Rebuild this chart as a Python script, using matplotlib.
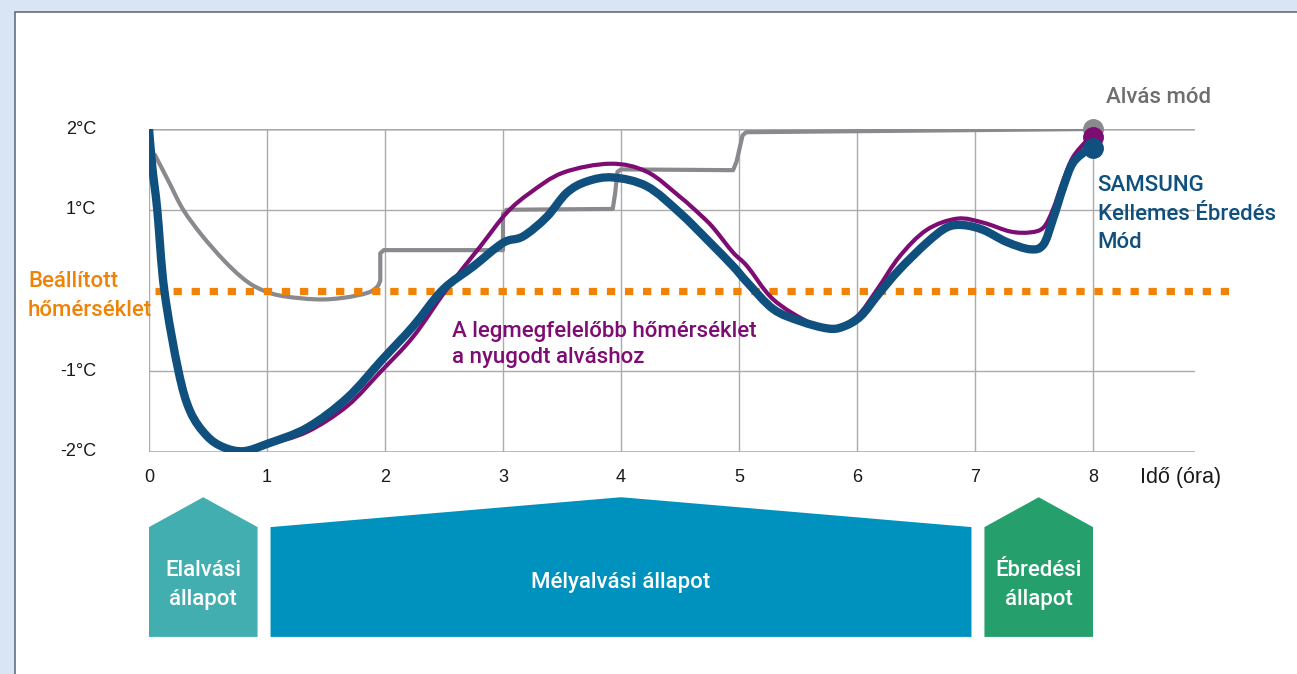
import matplotlib
matplotlib.use("Agg")
import matplotlib.pyplot as plt
from matplotlib.patches import Polygon, Rectangle, PathPatch
from matplotlib.path import Path

plt.rcParams['font.family'] = ['Roboto', 'DejaVu Sans']

# axis ticks
hour_ticks = [0, 1, 2, 3, 4, 5, 6, 7, 8]
temp_ticks = [-2, -1, 1, 2]
temp_labels = ['-2°C', '-1°C', '1°C', '2°C']

# SAMSUNG Kellemes Ébredés Mód (thick blue)
samsung_x = [0.00, 0.03, 0.07, 0.13, 0.25, 0.35, 0.49, 0.63, 0.80, 1.00, 1.34, 1.68, 1.98, 2.24,
             2.49, 2.75, 3.00, 3.17, 3.37, 3.54, 3.71, 3.93, 4.22, 4.50, 4.75, 4.95, 5.07, 5.29,
             5.52, 5.75, 5.88, 6.03, 6.19, 6.36, 6.59, 6.76, 6.90, 7.07, 7.27, 7.47, 7.58, 7.66,
             7.75, 7.83, 7.95, 8.00]
samsung_y = [2.00, 1.50, 1.00, 0.00, -1.00, -1.50, -1.80, -1.94, -1.99, -1.90, -1.70, -1.33, -0.85, -0.44,
             0.01, 0.30, 0.59, 0.67, 0.91, 1.21, 1.35, 1.40, 1.29, 0.96, 0.60, 0.30, 0.10, -0.23,
             -0.38, -0.47, -0.45, -0.32, -0.03, 0.26, 0.59, 0.78, 0.81, 0.75, 0.60, 0.51, 0.57, 0.88,
             1.29, 1.58, 1.74, 1.77]

# A legmegfelelőbb hőmérséklet (purple)
ideal_x = [0.00, 0.03, 0.07, 0.13, 0.25, 0.35, 0.49, 0.63, 0.80, 1.00, 1.34, 1.68, 1.96, 2.24,
           2.52, 2.81, 3.03, 3.23, 3.51, 3.91, 4.22, 4.50, 4.67, 4.78, 4.95, 5.07, 5.29, 5.60,
           5.80, 6.00, 6.17, 6.36, 6.59, 6.85, 7.07, 7.30, 7.47, 7.58, 7.66, 7.75, 7.83, 7.95, 8.00]
ideal_y = [2.00, 1.50, 1.00, 0.00, -1.00, -1.50, -1.80, -1.94, -1.99, -1.91, -1.75, -1.43, -1.01, -0.57,
           0.01, 0.55, 0.96, 1.21, 1.46, 1.57, 1.47, 1.16, 0.94, 0.78, 0.47, 0.30, -0.11, -0.40,
           -0.47, -0.32, 0.01, 0.42, 0.75, 0.89, 0.84, 0.73, 0.72, 0.78, 1.00, 1.37, 1.65, 1.86, 1.90]

# Alvás mód (gray): smooth fall first, then the steps
sleep_x = [0.05, 0.17, 0.29, 0.45, 0.63, 0.78, 0.91, 1.10, 1.42, 1.65, 1.85, 1.93, 1.96, 1.96,
           1.99, 3.00, 3.00, 3.03, 3.93, 3.95, 3.97, 4.00, 4.95, 4.98, 5.03, 5.06, 8.00]
sleep_y = [1.68, 1.34, 1.00, 0.68, 0.38, 0.17, 0.04, -0.06, -0.11, -0.09, -0.03, 0.04, 0.12, 0.46,
           0.50, 0.50, 0.95, 1.00, 1.01, 1.20, 1.47, 1.50, 1.49, 1.60, 1.92, 1.96, 2.00]
sleep_smooth_n = 13

set_temp = 0.0

# sleep stages under the chart
stage_names = [['Elalvási', 'állapot'], ['Mélyalvási állapot'], ['Ébredési', 'állapot']]
stage_start = [0.0, 1.03, 7.08]
stage_end = [0.92, 6.97, 8.0]
stage_colors = ['#42aeb0', '#0092be', '#25a06d']

BLUE = '#0f507e'
PURPLE = '#7d0c73'
GRAY = '#8a898e'
ORANGE = '#ef8307'


def smooth_path(xs, ys):
    # Catmull-Rom curve through the points, drawn as cubic bezier segments
    pts = list(zip(xs, ys))
    verts = [pts[0]]
    codes = [Path.MOVETO]
    for i in range(len(pts) - 1):
        p0 = pts[i - 1] if i > 0 else pts[i]
        p1 = pts[i]
        p2 = pts[i + 1]
        p3 = pts[i + 2] if i + 2 < len(pts) else p2
        c1 = (p1[0] + (p2[0] - p0[0]) / 6, p1[1] + (p2[1] - p0[1]) / 6)
        c2 = (p2[0] - (p3[0] - p1[0]) / 6, p2[1] - (p3[1] - p1[1]) / 6)
        verts += [c1, c2, p2]
        codes += [Path.CURVE4] * 3
    return verts, codes


fig = plt.figure(figsize=(12.97, 6.74), dpi=100)
fig.patch.set_facecolor('#d9e5f4')
fig.patches.append(Rectangle((15 / 1297, -0.1), 1.2, (674 - 12) / 674 + 0.1, transform=fig.transFigure,
                             facecolor='white', edgecolor='#5a6370', linewidth=1.1, zorder=-5))

ax = fig.add_axes([149 / 1297, (674 - 452) / 674, 1046 / 1297, 323 / 674])
ax.set_facecolor('none')
ax.set_xlim(0, 1046 / 118)
ax.set_ylim(-2, 2)
for s in ax.spines.values():
    s.set_visible(False)

ax.set_xticks(hour_ticks)
ax.set_yticks(temp_ticks)
ax.set_yticklabels(temp_labels)
ax.tick_params(length=0, labelsize=13, labelcolor='#1a1a1a')
ax.tick_params(axis='y', pad=38)
ax.tick_params(axis='x', pad=12)
for lab in ax.get_xticklabels() + ax.get_yticklabels():
    lab.set_family('Liberation Sans')
for lab in ax.get_yticklabels():
    lab.set_verticalalignment('center')

ax.grid(True, color='#ababab', linewidth=1.0, zorder=0)
ax.axhline(2, color='#cacaca', linewidth=2.0, zorder=0.5)
ax.axhline(-2, color='#b8b8b8', linewidth=2.0, zorder=0.5)

# gray: smooth part + step part
v1, c1 = smooth_path(sleep_x[:sleep_smooth_n], sleep_y[:sleep_smooth_n])
v2 = list(zip(sleep_x[sleep_smooth_n - 1:], sleep_y[sleep_smooth_n - 1:]))
c2 = [Path.LINETO] * len(v2)
ax.add_patch(PathPatch(Path(v1 + v2[1:], c1 + c2[1:]), facecolor='none', edgecolor=GRAY,
                       linewidth=3.0, joinstyle='round', capstyle='round', zorder=2))

ax.plot([0.05, 9.19], [set_temp, set_temp], color=ORANGE, linewidth=5.2, dashes=(1.15, 1.35),
        dash_capstyle='butt', clip_on=False, zorder=3)

v, c = smooth_path(ideal_x, ideal_y)
ax.add_patch(PathPatch(Path(v, c), facecolor='none', edgecolor=PURPLE, linewidth=3.0,
                       joinstyle='round', zorder=4))
v, c = smooth_path(samsung_x, samsung_y)
ax.add_patch(PathPatch(Path(v, c), facecolor='none', edgecolor=BLUE, linewidth=6.0,
                       joinstyle='round', capstyle='round', zorder=5))

ax.plot(sleep_x[-1], sleep_y[-1], 'o', color=GRAY, markersize=14, clip_on=False, zorder=6)
ax.plot(ideal_x[-1], ideal_y[-1], 'o', color=PURPLE, markersize=14, clip_on=False, zorder=7)
ax.plot(samsung_x[-1], samsung_y[-1], 'o', color=BLUE, markersize=14, clip_on=False, zorder=8)


def put_lines(x, y0, lines, step, **kw):
    for i, s in enumerate(lines):
        ax.text(x, y0 - i * step, s, va='baseline', clip_on=False, fontweight='medium', **kw)


put_lines(8.11, 2.326, ['Alvás mód'], 0.35, color='#6e6e72', fontsize=16)
put_lines(8.04, 1.232, ['SAMSUNG', 'Kellemes Ébredés', 'Mód'], 0.353, color=BLUE, fontsize=16)
put_lines(-1.025, 0.040, ['Beállított', 'hőmérséklet'], 0.355, color=ORANGE, fontsize=16)
put_lines(2.568, -0.572, ['A legmegfelelőbb hőmérséklet', 'a nyugodt alváshoz'], 0.33,
          color=PURPLE, fontsize=16)
ax.text(8.40, -2.384, 'Idő (óra)', va='baseline', ha='left', fontsize=15.5, family='Liberation Sans',
        color='#1a1a1a', clip_on=False)

# stage arrows
y_bottom, y_shoulder, y_peak = -4.29, -2.93, -2.56
for names, x0, x1, col in zip(stage_names, stage_start, stage_end, stage_colors):
    xm = (x0 + x1) / 2
    ax.add_patch(Polygon([(x0, y_bottom), (x0, y_shoulder), (xm, y_peak), (x1, y_shoulder), (x1, y_bottom)],
                         closed=True, facecolor=col, edgecolor='none', clip_on=False, zorder=1))
    if len(names) == 1:
        put_lines(xm, -3.684, names, 0.36, ha='center', color='white', fontsize=16)
    else:
        put_lines(xm, -3.535, names, 0.36, ha='center', color='white', fontsize=16)

fig.savefig('out.png', dpi=100, facecolor=fig.get_facecolor())
